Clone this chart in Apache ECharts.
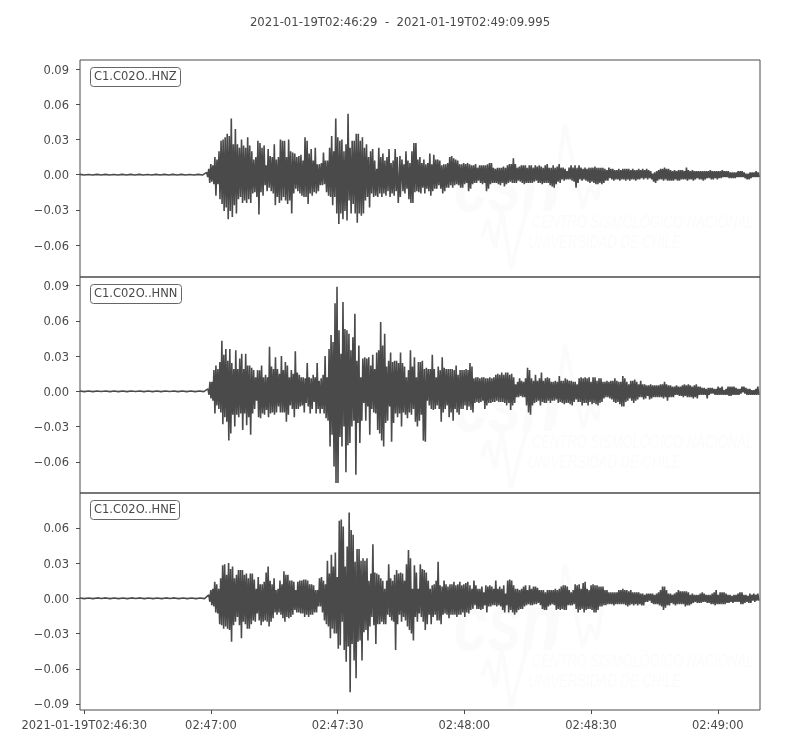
<!DOCTYPE html>
<html><head><meta charset="utf-8">
<style>html,body{margin:0;padding:0;background:#fff}#c{width:800px;height:750px}</style>
<script src="https://cdn.jsdelivr.net/npm/echarts@6/dist/echarts.min.js"></script>
</head><body><div id="c"></div>
<script>
// Amplitudes are in thousandths of the axis unit; times in seconds after 02:46:29.
const chartTitle = '2021-01-19T02:46:29  -  2021-01-19T02:49:09.995';
const channels = ['C1.C02O..HNZ', 'C1.C02O..HNN', 'C1.C02O..HNE'];
const xTickSeconds = [1, 31, 61, 91, 121, 151];
const xTickLabels = ['2021-01-19T02:46:30', '02:47:00', '02:47:30', '02:48:00', '02:48:30', '02:49:00'];
const yTicksUpperPanels = [0.09, 0.06, 0.03, 0, -0.03, -0.06];
const yTicksLowerPanel = [0.06, 0.03, 0, -0.03, -0.06, -0.09];
const duration = 160.995;
const onsetSteps = [0.485, 0.47, 0.468];
const codaSteps = [0.471, 0.47, 0.47];
const onsetSeconds = [30.0, 30.3, 30.5];
const codaSeconds = [75.76, 92.33, 92.33];
const quietTrace = [0.3,-0.3,0.2,-0.3,0.3,-0.2,0.3,-0.3,0.2,-0.3,0.3,-0.3,0.3,-0.2,0.3,-0.3,0.2,-0.3,0.3,-0.3,0.3,-0.2,0.3,-0.3,0.3,-0.3,0.2,-0.3,0.3,-0.3];

const hnzUpperOnset = [2,5,9,8,15,13,20,29,30,32,35,33,48,26,39,26,23,30,25,23,32,25,20,13,15,29,27,23,25,8,22,16,15,26,13,15,30,29,29,15,30,20,19,18,15,16,17,12,32,29,18,22,12,23,9,9,10,19,12,12,23,33,20,48,32,29,30,20,26,52,23,29,29,35,35,29,32,23,26,15,20,22,12,5,23,15,18,12,15,22,10,12,22,15];
const hnzLowerOnset = [-2,-7,-6,-8,-18,-8,-21,-25,-31,-28,-38,-31,-36,-26,-33,-21,-19,-24,-22,-24,-21,-24,-16,-15,-19,-34,-15,-18,-9,-14,-11,-14,-16,-26,-19,-24,-22,-19,-22,-25,-22,-33,-16,-12,-14,-16,-18,-19,-19,-25,-16,-18,-15,-16,-14,-9,-9,-8,-15,-18,-19,-26,-19,-33,-42,-33,-38,-31,-39,-22,-33,-25,-33,-41,-33,-35,-33,-22,-19,-28,-16,-19,-18,-19,-16,-19,-16,-18,-14,-19,-16,-18,-14,-24,-19];
const hnzUpperCoda = [16,13,9,20,12,10,20,27,27,13,15,10,13,9,10,18,9,17,13,13,12,8,9,9,10,15,16,14,13,12,9,9,10,9,10,9,8,8,9,6,8,8,8,8,9,10,10,6,5,6,6,6,7,6,8,9,9,14,9,6,7,8,8,8,6,8,8,6,8,7,8,7,6,8,9,6,6,8,6,7,9,6,6,5,3,6,8,6,8,6,8,6,5,6,5,6,6,6,7,6,6,6,6,5,4,6,5,5,4,4,5,4,5,5,5,5,4,5,4,4,5,4,5,4,5,4,3,1,2,3,4,5,5,6,5,5,4,3,4,3,4,4,4,3,6,4,3,4,3,3,3,3,3,3,3,3,4,3,3,3,3,3,4,3,3,3,2,2,2,2,3,3,3,2,1,1,2,2,2,3,2];
const hnzLowerCoda = [-18,-14,-16,-12,-21,-24,-24,-15,-14,-15,-16,-11,-16,-12,-14,-18,-14,-12,-12,-9,-12,-16,-14,-11,-11,-9,-11,-9,-8,-9,-11,-11,-8,-7,-14,-12,-8,-7,-7,-5,-7,-8,-7,-14,-12,-8,-7,-7,-7,-8,-9,-7,-10,-8,-7,-6,-7,-7,-7,-5,-6,-7,-8,-7,-7,-7,-7,-6,-5,-7,-7,-8,-7,-7,-7,-9,-10,-11,-8,-6,-7,-4,-5,-4,-4,-4,-5,-6,-11,-7,-4,-5,-4,-5,-6,-7,-6,-7,-8,-8,-7,-8,-7,-5,-5,-3,-4,-5,-4,-4,-5,-4,-4,-5,-4,-5,-4,-4,-5,-4,-4,-3,-4,-3,-4,-3,-4,-6,-7,-5,-4,-4,-5,-4,-5,-5,-5,-5,-4,-5,-5,-4,-4,-4,-5,-4,-4,-5,-4,-3,-4,-4,-5,-4,-3,-3,-4,-4,-3,-4,-3,-3,-2,-2,-2,-3,-3,-3,-3,-2,-2,-2,-2,-3,-4,-4,-3,-2,-2,-2,-2];

const hnnUpperOnset = [2,8,8,18,22,19,25,43,31,36,26,36,24,19,35,19,28,32,19,32,22,22,20,18,12,18,18,22,12,14,12,38,21,19,29,19,15,30,18,25,22,12,18,15,34,16,14,12,12,11,24,12,11,14,12,24,9,11,14,30,12,36,48,42,75,89,52,32,76,53,52,49,35,46,66,26,39,12,28,29,28,29,22,31,19,33,35,59,39,49,21,26,33,25,26,26,24,33,24,21,12,18,35,21,29,12,25,25,26,19,20,19,19,31,19,12,21,18,29,20,19,19,19,19,18,22,14,18,18,18,19,18];
const hnnLowerOnset = [-3,-6,-8,-19,-12,-15,-18,-28,-22,-26,-42,-36,-20,-30,-20,-22,-19,-33,-19,-29,-22,-37,-19,-15,-8,-22,-23,-19,-20,-16,-22,-19,-18,-20,-18,-13,-18,-18,-18,-26,-20,-12,-15,-22,-15,-15,-13,-12,-18,-10,-13,-19,-15,-9,-19,-15,-19,-15,-19,-23,-25,-47,-37,-64,-78,-78,-39,-47,-30,-69,-46,-44,-30,-25,-71,-27,-44,-25,-10,-25,-13,-37,-15,-18,-19,-33,-36,-42,-47,-27,-25,-13,-43,-27,-19,-22,-19,-30,-18,-20,-23,-18,-20,-15,-26,-30,-25,-20,-42,-43,-8,-12,-15,-16,-15,-12,-15,-26,-18,-15,-12,-22,-18,-25,-15,-18,-20,-15,-15,-12,-16,-13];
const hnnUpperCoda = [24,21,11,12,12,11,12,12,11,11,12,11,12,14,15,14,16,14,16,16,14,15,12,6,8,11,9,8,11,20,18,11,9,14,9,11,16,9,11,12,11,8,8,9,8,13,9,9,11,10,9,9,8,8,6,11,12,11,12,11,12,8,12,12,9,11,11,8,8,9,8,9,9,11,9,8,8,13,11,8,6,9,9,10,8,6,9,6,6,5,5,6,5,5,5,5,6,6,8,6,5,5,4,4,5,4,4,5,6,5,6,5,4,5,6,4,4,3,3,2,3,3,3,2,2,4,3,4,1,2,4,4,4,4,3,2,2,4,4,3,2,2,1,1,2,4];
const hnnLowerCoda = [-16,-18,-10,-9,-10,-9,-8,-15,-12,-10,-10,-9,-9,-8,-9,-9,-9,-10,-12,-10,-16,-12,-10,-5,-5,-4,-5,-5,-12,-18,-20,-12,-10,-9,-8,-12,-9,-10,-10,-8,-10,-8,-8,-7,-10,-9,-10,-11,-10,-10,-11,-12,-9,-7,-9,-9,-12,-10,-10,-12,-9,-11,-10,-11,-12,-10,-9,-6,-5,-5,-6,-7,-9,-10,-9,-11,-13,-13,-9,-8,-6,-8,-10,-8,-7,-5,-5,-7,-6,-4,-7,-6,-5,-5,-5,-5,-5,-6,-5,-8,-5,-5,-5,-3,-3,-4,-4,-5,-4,-5,-5,-5,-6,-5,-6,-3,-3,-3,-3,-6,-3,-2,-2,-3,-3,-3,-3,-3,-3,-3,-4,-4,-3,-3,-3,-3,-2,-1,-2,-3,-3,-3,-3,-3,-3,-3];

const hneUpperOnset = [3,7,8,14,12,8,17,28,29,20,30,25,27,17,20,24,24,24,20,21,17,21,21,16,8,18,12,12,14,22,27,15,12,17,7,8,15,12,23,20,20,15,15,14,7,14,15,15,16,16,15,12,12,11,7,7,17,18,15,12,32,21,37,27,39,18,66,67,61,27,44,73,58,54,31,42,42,32,34,32,34,15,21,46,22,21,20,17,15,8,15,29,17,15,20,24,21,22,21,15,29,41,34,8,28,22,8,29,25,24,22,15,8,11,12,15,31,11,10,15,12,10,12,12,14,11,12,14,11,12,13,14];
const hneLowerOnset = [-3,-6,-7,-12,-13,-22,-23,-26,-24,-26,-27,-37,-23,-20,-16,-23,-34,-20,-22,-26,-26,-22,-19,-20,-13,-19,-23,-20,-19,-20,-24,-20,-17,-12,-14,-12,-14,-17,-20,-16,-17,-16,-14,-10,-12,-12,-13,-13,-16,-14,-16,-14,-14,-12,-12,-7,-7,-12,-19,-22,-24,-34,-26,-30,-30,-43,-40,-20,-44,-54,-41,-80,-39,-53,-68,-37,-36,-53,-29,-27,-36,-24,-16,-23,-39,-22,-22,-20,-22,-22,-14,-16,-19,-20,-44,-22,-14,-20,-16,-19,-24,-27,-30,-36,-16,-20,-13,-16,-20,-27,-22,-14,-22,-16,-14,-19,-19,-22,-14,-13,-14,-17,-14,-14,-14,-16,-14,-14,-12,-16,-12,-13,-10];
const hneUpperCoda = [11,8,15,11,8,8,10,5,11,10,11,10,8,15,8,10,8,11,4,15,16,15,11,8,8,7,8,10,11,7,11,8,10,10,9,7,7,7,5,7,7,7,7,8,7,8,10,11,11,10,7,5,7,12,11,12,8,13,14,8,7,11,12,11,11,10,10,10,7,7,5,5,5,5,5,7,7,8,7,7,6,7,5,5,5,5,4,4,3,4,4,4,4,3,4,5,7,10,10,7,4,4,3,4,5,7,6,6,6,6,5,3,4,3,3,3,4,5,4,3,3,3,4,5,7,3,5,5,5,4,3,3,2,3,3,4,5,5,3,3,2,4,3,4,3,4];
const hneLowerCoda = [-10,-9,-6,-9,-9,-10,-9,-6,-12,-7,-7,-6,-6,-7,-6,-7,-10,-12,-6,-12,-10,-12,-14,-12,-10,-9,-9,-7,-6,-5,-6,-6,-5,-5,-4,-6,-9,-10,-10,-7,-6,-5,-6,-10,-9,-10,-9,-10,-10,-6,-6,-6,-5,-9,-12,-10,-9,-12,-10,-9,-9,-10,-12,-12,-10,-7,-7,-6,-6,-5,-5,-5,-6,-5,-5,-5,-5,-5,-6,-7,-6,-5,-6,-5,-6,-5,-6,-6,-3,-3,-2,-4,-5,-5,-5,-6,-7,-10,-8,-6,-6,-4,-5,-6,-5,-5,-5,-5,-7,-6,-6,-5,-4,-3,-4,-4,-4,-3,-3,-4,-4,-5,-5,-6,-5,-5,-5,-5,-5,-4,-4,-3,-4,-3,-3,-3,-5,-5,-4,-3,-4,-4,-2,-3,-2,-2];

const traces = [
  [hnzUpperOnset, hnzLowerOnset, hnzUpperCoda, hnzLowerCoda],
  [hnnUpperOnset, hnnLowerOnset, hnnUpperCoda, hnnLowerCoda],
  [hneUpperOnset, hneLowerOnset, hneUpperCoda, hneLowerCoda]
];
const yRanges = [[-0.0872, 0.0978], [-0.0866, 0.0973], [-0.0951, 0.0896]];
const panelTops = [60, 277, 493];
const panelHeights = [217, 216, 217];
const ink = '#4a4a4a';
const fontFamily = '"DejaVu Sans"';

function buildTrace(k) {
  const [uo, lo, uc, lc] = traces[k];
  const pts = [];
  quietTrace.forEach((v, i) => pts.push([i * onsetSeconds[k] / quietTrace.length, v / 1000]));
  const add = (arr, t0, step, shift) => arr.forEach((v, i) => pts.push([t0 + (i + shift) * step, v / 1000]));
  add(uo, onsetSeconds[k], onsetSteps[k], 0);
  add(lo, onsetSeconds[k], onsetSteps[k], 0.5);
  add(uc, codaSeconds[k], codaSteps[k], 0);
  add(lc, codaSeconds[k], codaSteps[k], 0.5);
  return pts.sort((a, b) => a[0] - b[0]);
}

const logoColor = '#fbfbfb';
function logo(dy) {
  return [
    {type:'text', z:0, silent:true, x:454, y:147+dy, scaleX:0.74, style:{text:'csn', fill:logoColor, font:'italic bold 82px "Liberation Sans"'}},
    {type:'polyline', z:0, silent:true, shape:{points:[[553,207+dy],[565,125+dy],[583,208+dy],[590,185+dy],[597,200+dy],[602,165+dy]]}, style:{stroke:logoColor, fill:null, lineWidth:4, lineJoin:'bevel'}},
    {type:'polyline', z:0, silent:true, shape:{points:[[482,237+dy],[488,220+dy],[495,248+dy],[502,210+dy],[511,268+dy],[527,208+dy]]}, style:{stroke:logoColor, fill:null, lineWidth:4, lineJoin:'bevel'}},
    {type:'text', z:0, silent:true, x:532, y:213+dy, scaleX:0.685, style:{text:'CENTRO SISMOLÓGICO NACIONAL', fill:logoColor, font:'italic 19px "Liberation Sans"'}},
    {type:'text', z:0, silent:true, x:528, y:233+dy, scaleX:0.685, style:{text:'UNIVERSIDAD DE CHILE', fill:logoColor, font:'italic 19px "Liberation Sans"'}}
  ];
}

const option = {
  animation: false,
  backgroundColor: '#fff',
  title: [
    {text: chartTitle, left: 'center', top: 12, textStyle: {color: ink, fontSize: 11.7, fontWeight: 'normal', fontFamily}}
  ].concat(channels.map((c, k) => ({
    text: c, left: 90, top: panelTops[k] + 7, padding: [4, 4, 4, 4], borderColor: '#666', borderWidth: 1, borderRadius: 3,
    textStyle: {color: ink, fontSize: 11.5, fontWeight: 'normal', fontFamily}
  }))),
  graphic: {elements: [].concat(logo(0), logo(220), logo(439))},
  grid: channels.map((c, k) => ({left: 80, width: 680, top: panelTops[k], height: panelHeights[k], show: true, borderColor: ink, borderWidth: 1, backgroundColor: 'transparent'})),
  xAxis: channels.map((c, k) => ({
    type: 'value', gridIndex: k, min: 0, max: duration, splitLine: {show: false}, axisLine: {show: false, onZero: false},
    axisTick: {show: k === 2, length: 4, lineStyle: {color: ink}, customValues: xTickSeconds},
    axisLabel: {show: k === 2, color: ink, fontSize: 11.5, fontFamily, margin: 10, customValues: xTickSeconds,
      formatter: v => xTickLabels[xTickSeconds.indexOf(v)] || ''}
  })),
  yAxis: channels.map((c, k) => ({
    type: 'value', gridIndex: k, min: yRanges[k][0], max: yRanges[k][1], splitLine: {show: false}, axisLine: {show: false, onZero: false},
    axisTick: {show: true, length: 4, lineStyle: {color: ink}, customValues: k === 2 ? yTicksLowerPanel : yTicksUpperPanels},
    axisLabel: {color: ink, fontSize: 11.5, fontFamily, margin: 11, customValues: k === 2 ? yTicksLowerPanel : yTicksUpperPanels,
      verticalAlign: 'top', lineHeight: 3, formatter: v => v.toFixed(2).replace('-', '\u2212')}
  })),
  series: channels.map((c, k) => ({
    type: 'line', name: c, xAxisIndex: k, yAxisIndex: k, data: buildTrace(k), showSymbol: false, symbol: 'none',
    smooth: false, lineStyle: {color: ink, width: 1.6, join: 'bevel'}, itemStyle: {color: ink}, silent: true, z: 3, clip: true
  }))
};
echarts.init(document.getElementById('c'), null, {renderer: 'canvas'}).setOption(option);
</script></body></html>
